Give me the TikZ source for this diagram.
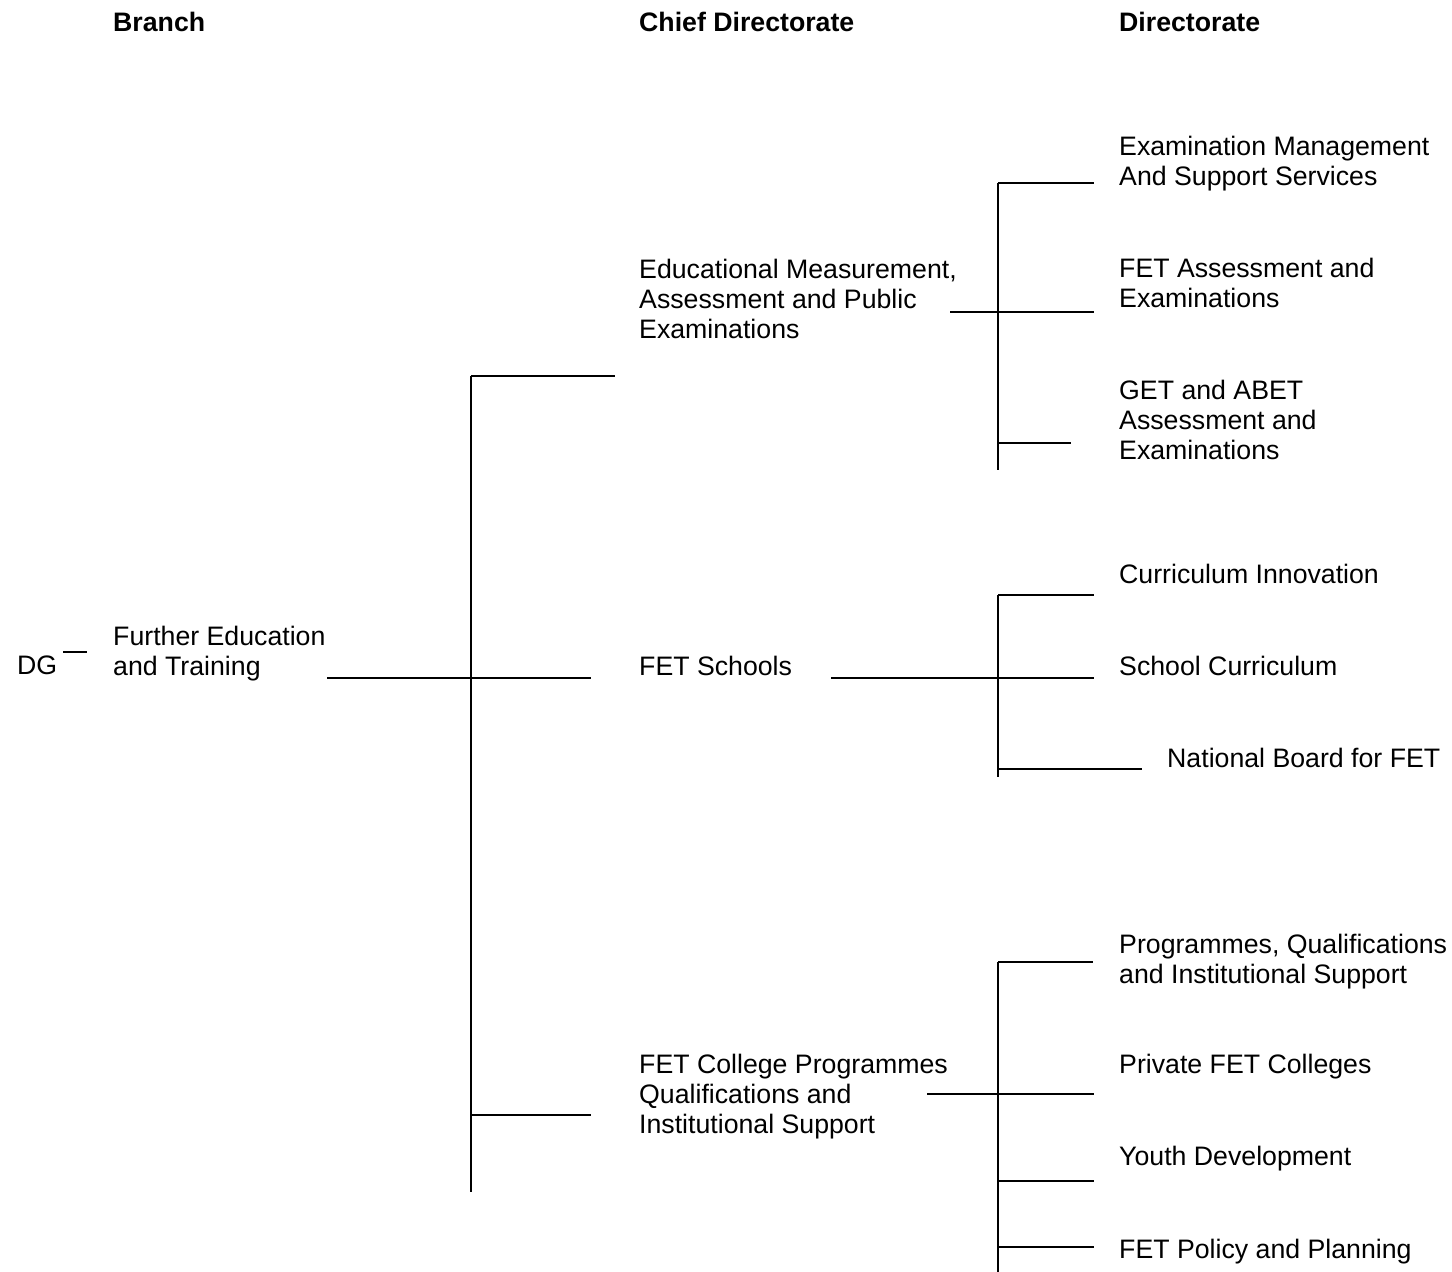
\documentclass[tikz,border=0pt]{standalone}
\usepackage{fontspec}
\setmainfont{Liberation Sans}
\tikzset{
  lbl/.style={anchor=base west,inner sep=0pt,align=left,font=\fontsize{26.7}{30}\selectfont},
  hdr/.style={lbl,font=\fontsize{26.7}{30}\selectfont\bfseries},
  ln/.style={line width=2.6pt}
}
\begin{document}
\begin{tikzpicture}[x=1pt,y=-1pt,line join=round]
\useasboundingbox (0,0) rectangle (1452,1272);
% --- column heads
\node[hdr] (hbranch) at (113,31) {Branch};
\node[hdr] (hchief) at (639,31) {Chief Directorate};
\node[hdr] (hdir) at (1119,31) {Directorate};
% --- branch (multi-line nodes sit on their last baseline)
\node[lbl] (dg) at (17,674) {DG};
\node[lbl] (fet) at (113,675) {Further Education\\and Training};
% --- chief directorates
\node[lbl] (emape) at (639,338) {Educational Measurement,\\Assessment and Public\\Examinations};
\node[lbl] (fetsch) at (639,675) {FET Schools};
\node[lbl] (fetcol) at (639,1133) {FET College Programmes\\Qualifications and\\Institutional Support};
% --- directorates
\node[lbl] (emss) at (1119,185) {Examination Management\\And Support Services};
\node[lbl] (fetae) at (1119,307) {FET Assessment and\\Examinations};
\node[lbl] (getae) at (1119,459) {GET and ABET\\Assessment and\\Examinations};
\node[lbl] (curinn) at (1119,583) {Curriculum Innovation};
\node[lbl] (schcur) at (1119,675) {School Curriculum};
\node[lbl] (nbfet) at (1167,767) {National Board for FET};
\node[lbl] (pqis) at (1119,983) {Programmes, Qualifications\\and Institutional Support};
\node[lbl] (pfetc) at (1119,1073) {Private FET Colleges};
\node[lbl] (youth) at (1119,1165) {Youth Development};
\node[lbl] (fetpp) at (1119,1258) {FET Policy and Planning};
% --- DG tick
\coordinate (dgl) at (63,652); \coordinate (dgr) at (87,652);
\draw[ln] (dgl) -- (dgr);
% --- branch spine
\coordinate (bmain) at (327,678);
\coordinate (stop) at (471,376); \coordinate (smid) at (471,678); \coordinate (sbot) at (471,1192);
\coordinate (s1) at (615,376); \coordinate (s2) at (591,678);
\coordinate (s3l) at (471,1115); \coordinate (s3) at (591,1115);
\draw[ln] (stop) -- (sbot);
\draw[ln] (bmain) -- (s2);
\draw[ln] (stop) -- (s1);
\draw[ln] (s3l) -- (s3);
% --- directorate spine A
\coordinate (amain) at (950,312); \coordinate (atop) at (998,183); \coordinate (abot) at (998,470);
\coordinate (a1) at (1094,183); \coordinate (a2) at (1094,312);
\coordinate (a3l) at (998,443); \coordinate (a3) at (1071,443);
\draw[ln] (atop) -- (abot);
\draw[ln] (amain) -- (a2);
\draw[ln] (atop) -- (a1);
\draw[ln] (a3l) -- (a3);
% --- directorate spine B
\coordinate (bmainl) at (831,678); \coordinate (btop) at (998,595); \coordinate (bbot) at (998,777);
\coordinate (b1) at (1094,595); \coordinate (b2) at (1094,678);
\coordinate (b3l) at (998,769); \coordinate (b3) at (1142,769);
\draw[ln] (btop) -- (bbot);
\draw[ln] (bmainl) -- (b2);
\draw[ln] (btop) -- (b1);
\draw[ln] (b3l) -- (b3);
% --- directorate spine C
\coordinate (cmain) at (927,1094); \coordinate (ctop) at (998,962); \coordinate (cbot) at (998,1272);
\coordinate (c1) at (1093,962); \coordinate (c2) at (1094,1094);
\coordinate (c3l) at (998,1181); \coordinate (c3) at (1094,1181);
\coordinate (c4l) at (998,1247); \coordinate (c4) at (1094,1247);
\draw[ln] (ctop) -- (cbot);
\draw[ln] (cmain) -- (c2);
\draw[ln] (ctop) -- (c1);
\draw[ln] (c3l) -- (c3);
\draw[ln] (c4l) -- (c4);
\end{tikzpicture}
\end{document}
